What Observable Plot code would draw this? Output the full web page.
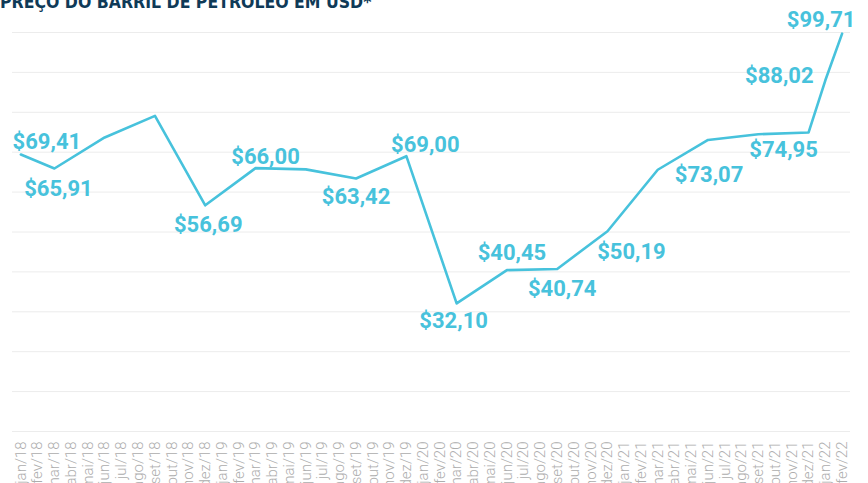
<!DOCTYPE html>
<html>
<head>
<meta charset="utf-8">
<script src="https://cdn.jsdelivr.net/npm/d3@7"></script>
<script src="https://cdn.jsdelivr.net/npm/@observablehq/plot@0.6"></script>
<style>
  html, body { margin: 0; padding: 0; background: #fff; overflow: hidden; width: 868px; height: 483px; }
  #title { margin: -7px 0 0 0; height: 18px; line-height: 18px; font-family: "DejaVu Sans Condensed", "Liberation Sans Narrow", Roboto, sans-serif; font-weight: 700; font-size: 17.5px; color: #0f3a57; white-space: nowrap; overflow: visible; }
  #chart svg { display: block; }
</style>
</head>
<body>
<div id="title">PREÇO DO BARRIL DE PETRÓLEO EM USD*</div>
<div id="chart"></div>
<script>
const months = [
  "jan/18","fev/18","mar/18","abr/18","mai/18","jun/18","jul/18","ago/18","set/18","out/18","nov/18","dez/18",
  "jan/19","fev/19","mar/19","abr/19","mai/19","jun/19","jul/19","ago/19","set/19","out/19","nov/19","dez/19",
  "jan/20","fev/20","mar/20","abr/20","mai/20","jun/20","jul/20","ago/20","set/20","out/20","nov/20","dez/20",
  "jan/21","fev/21","mar/21","abr/21","mai/21","jun/21","jul/21","ago/21","set/21","out/21","nov/21","dez/21",
  "jan/22","fev/22"
];

const lineMonths = ["jan/18","mar/18","jun/18","set/18","dez/18","mar/19","jun/19","set/19","dez/19","mar/20","jun/20","set/20","dez/20","mar/21","jun/21","set/21","dez/21","jan/22","fev/22"];
const lineValues = [69.41, 65.91, 73.7, 79.1, 56.69, 66.00, 65.7, 63.42, 69.00, 32.10, 40.45, 40.74, 50.19, 65.6, 73.07, 74.5, 74.95, 88.02, 99.71];

const labelMonths = ["jan/18","mar/18","dez/18","mar/19","set/19","dez/19","mar/20","jun/20","set/20","dez/20","jun/21","dez/21","jan/22","fev/22"];
const labelValues = [69.41, 65.91, 56.69, 66.00, 63.42, 69.00, 32.10, 40.45, 40.74, 50.19, 73.07, 74.95, 88.02, 99.71];

const gridValues = [0, 10, 20, 30, 40, 50, 60, 70, 80, 90, 100];

// label nudges (styling, in pixels)
const labelDx = [26, 4, 3, 10, 0, 19, -3, 5, 5, 24, 1, -25, -46, -21];
const labelDy = [-13, 20, 20, -11, 18, -11, 18, -17, 20, 21, 35, 18, -4, -14];

const lineData = lineMonths.map((m, i) => ({month: m, value: lineValues[i]}));
const labelData = labelMonths.map((m, i) => ({month: m, value: labelValues[i], dx: labelDx[i], dy: labelDy[i]}));

const fmt = v => "$" + v.toFixed(2).replace(".", ",");
const blue = "#47c2dc";

const plot = Plot.plot({
  width: 868,
  height: 477,
  marginTop: 21,
  marginBottom: 57,
  marginLeft: 12,
  marginRight: 18,
  style: {fontFamily: "Roboto, sans-serif", color: "#b0b0b0", background: "transparent"},
  x: {type: "point", domain: months, padding: 0.5, axis: null},
  y: {domain: [0, 100], axis: null},
  marks: [
    Plot.ruleY(gridValues, {stroke: "#ececec", strokeWidth: 1}),
    Plot.axisX({tickRotate: -90, tickSize: 0, tickPadding: 10, fontSize: 15, fontWeight: 300, fill: "#adadad", label: null}),
    Plot.line(lineData, {x: "month", y: "value", stroke: blue, strokeWidth: 2.6}),
    ...labelData.map(d => Plot.text([d], {
      x: "month", y: "value", text: v => fmt(v.value),
      dx: d.dx, dy: d.dy, fill: blue, fontSize: 22, fontWeight: 700,
      fontFamily: "Roboto, sans-serif"
    }))
  ]
});
document.getElementById("chart").appendChild(plot);
</script>
</body>
</html>
